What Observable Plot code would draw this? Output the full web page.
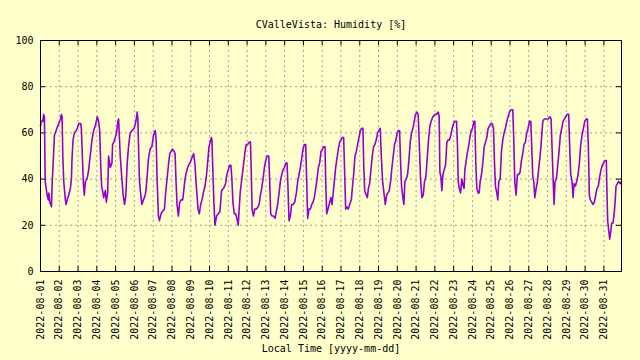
<!DOCTYPE html>
<html>
<head>
<meta charset="utf-8">
<script src="https://cdn.jsdelivr.net/npm/d3@7"></script>
<script src="https://cdn.jsdelivr.net/npm/@observablehq/plot@0.6"></script>
<style>
  html, body { margin: 0; padding: 0; background: #ffffcc; }
  svg { display: block; }
</style>
</head>
<body>
<div id="chart"></div>
<script>
const titleText = "CValleVista: Humidity [%]";
const xLabelText = "Local Time [yyyy-mm-dd]";

const dayLabels = [
  "2022-08-01","2022-08-02","2022-08-03","2022-08-04","2022-08-05","2022-08-06",
  "2022-08-07","2022-08-08","2022-08-09","2022-08-10","2022-08-11","2022-08-12",
  "2022-08-13","2022-08-14","2022-08-15","2022-08-16","2022-08-17","2022-08-18",
  "2022-08-19","2022-08-20","2022-08-21","2022-08-22","2022-08-23","2022-08-24",
  "2022-08-25","2022-08-26","2022-08-27","2022-08-28","2022-08-29","2022-08-30",
  "2022-08-31"
];
const yTicks = [0, 20, 40, 60, 80, 100];

// hours since 2022-08-01 00:00 local time
const hours = [
  0,1,3,4,5,6,8.5,10,10.6,12,14,15,16.6,17.8,20,22,23.4,25.5,26.8,27.6,28.5,29.7,31.8,32.7,34,36,38.2,39.5,40.3,41.6,43.3,45.4,47.1,48.8,51.4,52.2,53.5,54.8,56,57.3,59.4,61.6,62.8,64.5,65.8,67.9,70,72.6,74.3,75.6,76.9,78.1,79.8,80.7,82.8,84.1,85.8,87,89.2,91.3,92.1,93.8,95.5,97.2,98.9,99.8,100.6,101.9,104,105.7,107.4,109.1,110.8,112.5,114.6,116.8,119.7,121.9,123.6,124.4,125.3,126.5,128.2,129.5,131.6,133.8,135,136.7,138,140.1,142.3,144.4,146.5,147.8,149,150.7,152,154.1,155.8,158.4,159.7,161.4,163.5,165.2,166.9,168.6,170.7,172,173.2,174.5,176.2,177.9,179.6,181.7,183.4,184.7,186.4,189,191.1,193.2,195.8,197.5,198.7,200,201.3,203,204.7,206.4,208.1,210.2,211.9,213.6,215.3,217,218.3,219.1,220.4,221.7,222.9,225,227.2,229.3,231.4,234,236.5,238.2,239.9,241.6,243.3,244.6,245.9,247.6,249.3,251,252.7,253.9,255.2,256.9,
  259.7,261.4,263,264.9,266.6,268.3,269.1,270.4,272.1,273.8,275.9,278,279.3,281,282.7,284.4,286.1,287.8,289.5,291.7,292.9,294.2,295.9,298,299.7,301.4,303.1,304.9,306.6,308.3,310,311.7,313.4,315.1,316.3,317.6,319.3,321,322.7,324.9,327,328.7,330.4,332.1,333.8,335.5,337.2,338.9,340.2,341.4,343.1,344.9,346.6,348.3,350,351.7,353.4,355.1,356.8,358.5,360.2,361.9,363.6,364.4,365.7,367.4,369.5,371.2,372.5,373.8,375.5,377.2,378.9,380.6,382.3,384,385.7,387.4,388.7,390,391.7,393.4,395.1,397.2,398.5,400.2,401.9,403.6,405.3,407,408.7,410.4,412.1,413,414.3,416.4,417.7,419,420.6,422.3,424,425.7,427.4,429.1,430.8,432.5,434.2,435.5,437.2,438.9,440.6,442.3,444,445.7,447.4,449.1,450.8,452.5,454.2,455.9,457.6,458.9,460.2,461.4,463.1,464.4,465.7,467.4,469.1,470.8,472.5,474.2,475.9,477.6,479.3,481,482.7,484,485.7,487.4,489.1,490.8,492.5,494.2,495.9,497.6,499.3,501.4,504,
  505.7,508.3,509.5,510.4,511.7,512.9,514.3,515.9,517.6,519.3,521,522.7,524.4,526.1,527.8,529.5,531.7,532.9,533.8,535.1,536.8,538.5,540.2,541.4,542.3,543.6,545.3,547,548.7,550.4,552.1,553.8,555.1,556.3,557.6,559.3,560.6,561.9,563.6,565.3,567,568.7,570.4,572.1,573.8,575.5,577.2,578.9,580.2,581.4,583.1,584.4,585.7,587.4,589.1,590.8,592.5,594.2,595.9,597.6,599.3,601,603.6,604.9,606.1,607.8,609.5,611.2,612.9,614.6,616.3,618,619.7,621.4,623.1,624.9,626.6,627.8,629.1,630.4,631.7,633.4,635.1,636.8,638.5,640.2,641.9,643.6,646.1,648.7,651.2,652.5,653.8,655.1,656.3,657.6,659.3,661,662.7,664.4,666.1,667.8,669.5,671.2,672.9,675,676.3,677.6,679.3,680.6,681.9,683.6,685.3,687,688.7,690.4,692.1,693.8,695.5,697.2,698.9,700.2,701.4,702.7,704.4,706.1,707.8,709.5,711.2,712.9,714.6,716.3,718,719.7,721.4,723.1,724,724.8,726.1,727.4,728.7,730,731.7,733.4,734.7,735.5,737.2,738.9,740.6,742.5
];

// relative humidity [%]
const humidity = [
  63,65,65,68,67,39,33,31,34,30,28,39,50,59,61,63,64,66,68,67,50,39,31,29,31,33,36,40,49,57,60,61,62,64,64,62,50,38,33,39,40,44,48,53,57,61,63,67,65,61,47,37,34,32,35,30,34,50,45,47,55,56,58,60,65,66,60,50,40,33,29,33,47,54,60,61,62,65,69,66,54,39,33,29,31,33,36,43,49,53,54,59,61,57,40,24,22,25,26,27,33,39,46,51,52,53,52,51,39,29,24,30,31,31,36,40,43,46,47,49,51,46,39,33,27,25,29,31,34,37,41,47,54,56,58,57,42,29,20,24,25,26,35,36,38,42,44,46,46,40,30,25,25,23,20,27,34,39,
  47,52,55,55,56,56,47,27,24,27,27,28,29,33,36,40,45,48,50,50,39,25,24,24,23,26,29,34,39,42,44,45,47,47,36,22,24,29,29,30,34,39,42,45,49,53,55,55,39,23,27,27,29,30,32,36,40,45,47,52,53,54,54,40,25,27,30,32,29,33,39,45,49,53,56,57,58,58,43,27,28,27,29,31,36,42,50,52,55,58,61,62,62,47,35,33,32,36,38,44,50,54,55,57,60,61,62,50,39,34,29,33,34,35,39,45,50,55,57,60,61,61,47,37,32,29,39,40,42,48,56,60,62,65,68,69,68,56,40,32,33,39,41,49,57,63,65,67,68,
  68,69,67,43,41,35,42,44,46,56,57,57,59,62,64,65,65,54,39,36,34,40,37,36,44,47,51,54,58,61,62,65,65,47,36,34,34,39,42,47,54,56,58,62,63,64,64,62,47,37,34,31,39,40,52,57,60,62,65,67,69,70,70,56,39,33,42,42,43,48,51,55,56,60,62,65,65,54,41,39,32,36,39,45,50,57,65,66,66,66,67,66,53,40,29,39,40,46,52,59,62,65,66,67,68,68,54,42,39,32,38,37,39,42,47,55,59,62,65,66,66,53,33,31,30,29,30,33,36,37,41,44,46,47,48,48,33,22,18,14,17,21,21,26,32,37,38,39,38,39
];

const data = hours.map((h, i) => ({ h, v: humidity[i] }));
const dayTicks = dayLabels.map((_, i) => i * 24);
const gridX = dayTicks.slice(1);
const gridY = yTicks.slice(1, -1);

const frameH = 360 - 40 - 89;
const frameW = 640 - 40 - 19;
const tickLen = 5;

const chart = Plot.plot({
  width: 640,
  height: 360,
  marginLeft: 40,
  marginRight: 19,
  marginTop: 40,
  marginBottom: 89,
  style: {
    background: "#ffffcc",
    fontFamily: "'DejaVu Sans Mono', monospace",
    fontSize: "10px",
    color: "black",
    overflow: "visible"
  },
  x: { type: "linear", domain: d3.extent(hours), label: null },
  y: { domain: [0, 100], label: null },
  marks: [
    Plot.ruleX(gridX, { stroke: "#a0a0a0", strokeDasharray: "2,3", strokeWidth: 1 }),
    Plot.ruleY(gridY, { stroke: "#a0a0a0", strokeDasharray: "2,3", strokeWidth: 1 }),
    // inner tick marks (bottom, top, left, right)
    Plot.ruleX(gridX, { stroke: "black", insetTop: frameH - tickLen }),
    Plot.ruleX(gridX, { stroke: "black", insetBottom: frameH - tickLen }),
    Plot.ruleY(gridY, { stroke: "black", insetRight: frameW - tickLen }),
    Plot.ruleY(gridY, { stroke: "black", insetLeft: frameW - tickLen }),
    Plot.line(data, { x: "h", y: "v", stroke: "#9400d3", strokeWidth: 1.6 }),
    Plot.frame({ stroke: "black", strokeWidth: 1 }),
    Plot.axisY({ ticks: yTicks, tickSize: 0, tickPadding: 7, fontSize: 10 }),
    Plot.axisX({
      ticks: dayTicks,
      tickFormat: d => dayLabels[Math.round(d / 24)],
      tickRotate: -90,
      tickSize: 0,
      tickPadding: 8,
      fontSize: 10
    }),
    Plot.text([titleText], { frameAnchor: "top", dy: -20, fontSize: 10, fill: "black" }),
    Plot.text([xLabelText], { frameAnchor: "bottom", dy: 80, fontSize: 10, fill: "black" })
  ]
});

document.getElementById("chart").appendChild(chart);
</script>
</body>
</html>
